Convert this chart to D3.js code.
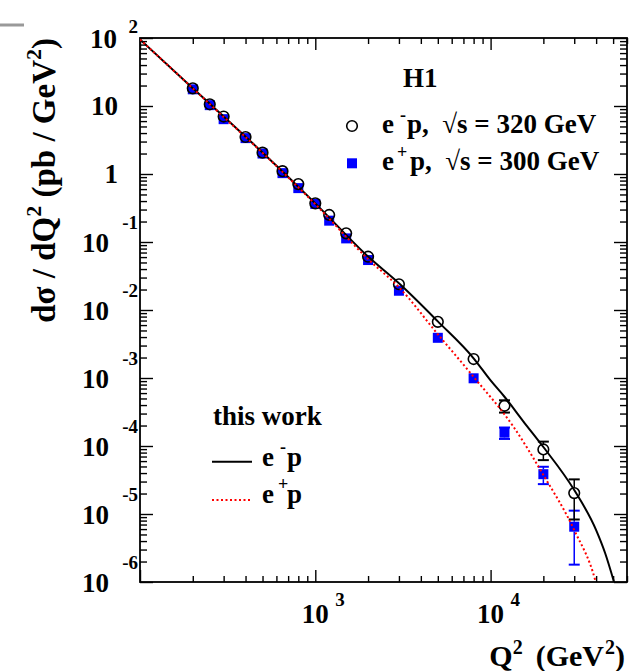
<!DOCTYPE html>
<html><head><meta charset="utf-8">
<script src="https://cdn.jsdelivr.net/npm/d3@7"></script>
<style>
body{margin:0;background:#fff}
svg{display:block}
text{font-family:"Liberation Serif","Times New Roman",serif;font-weight:bold;fill:#000}
</style>
</head><body><svg id="c" width="629" height="671"></svg>
<script>
// ---- data ----
const q2Points = [200,250,300,400,500,650,800,1000,1200,1500,2000,3000,5000,8000,12000,20000,30000];
const sigmaEm  = [18.2,10.6,7.0,3.5,2.06,1.10,0.71,0.37,0.25,0.134,0.0608,0.0239,0.0067,0.0019,0.00039,0.000089,0.0000203];
const errEm    = [0.4,0.25,0.15,0.08,0.05,0.03,0.02,0.01,0.008,0.005,0.0025,0.001,0.0004,0.00015,0.00008,0.000027,0.000012];
const sigmaEp  = [17.6,10.3,6.4,3.37,2.0,1.03,0.62,0.363,0.206,0.113,0.0543,0.0192,0.0039,0.00099,0.000157,0.0000385,0.0000065];
const errEp    = [0.4,0.25,0.15,0.08,0.05,0.03,0.02,0.01,0.008,0.005,0.0025,0.001,0.0003,0.0001,0.00003,0.000011,0.0000047];

const curveQ2Em = [100,200,300,500,1000,2000,3000,5000,8000,10000,12000,15400,20000,30000,40000,45000,50600];
const curveEm   = [95,18.3,7.0,2.07,0.37,0.061,0.0247,0.0068,0.00195,0.00092,0.00053,0.000229,0.0000966,0.0000225,0.0000058,0.00000267,0.000001];
const curveQ2Ep = [100,200,300,500,1000,2000,3000,5000,8000,13500,20000,30000,39500,40000];
const curveEp   = [95,18.2,6.9,2.05,0.36,0.056,0.0216,0.0044,0.00104,0.000192,0.0000375,0.0000058,0.00000107,0.00000095];

const xLabelValues = [1e3,1e4];
const xLabelExps   = ["3","4"];
const yLabelValues = [1e2,1e1,1,1e-1,1e-2,1e-3,1e-4,1e-5,1e-6];
const yLabelMant   = ["10","10","1","10","10","10","10","10","10"];
const yLabelExps   = ["2","","","-1","-2","-3","-4","-5","-6"];

// ---- layout ----
const L=140,R=627,T=38,B=582;
const svg=d3.select("#c");
const x=d3.scaleLog().domain([100,60000]).range([L,R]);
const y=d3.scaleLog().domain([1e-6,1e2]).range([B,T]);

// grey stub top-left
svg.append("line").attr("x1",0).attr("x2",24).attr("y1",25).attr("y2",25)
  .attr("stroke","#999").attr("stroke-width",3);

// ticks
const xMajor=[1e2,1e3,1e4];
const xMinor=[];
[1e2,1e3,1e4].forEach(d=>{for(let k=2;k<=9;k++){const v=k*d;if(v<=60000)xMinor.push(v);}});
const yMajor=yLabelValues;
const yMinor=[];
for(let e=-6;e<2;e++){for(let k=2;k<=9;k++)yMinor.push(k*Math.pow(10,e));}

function axisG(axisFn,scale,vals,size,tr){
  const g=svg.append("g").attr("transform",tr)
    .call(axisFn(scale).tickValues(vals).tickSize(-size).tickSizeOuter(0).tickFormat(""));
  g.select(".domain").remove();
  g.selectAll(".tick line").attr("stroke","#000").attr("stroke-width",1.4);
  return g;
}
axisG(d3.axisBottom,x,xMajor,12,`translate(0,${B})`);
axisG(d3.axisBottom,x,xMinor,6,`translate(0,${B})`);
axisG(d3.axisTop,x,xMajor,12,`translate(0,${T})`);
axisG(d3.axisTop,x,xMinor,6,`translate(0,${T})`);
axisG(d3.axisLeft,y,yMajor,13,`translate(${L},0)`);
axisG(d3.axisLeft,y,yMinor,7,`translate(${L},0)`);
axisG(d3.axisRight,y,yMajor,13,`translate(${R},0)`);
axisG(d3.axisRight,y,yMinor,7,`translate(${R},0)`);

svg.append("rect").attr("x",L).attr("y",T).attr("width",R-L).attr("height",B-T)
  .attr("fill","none").attr("stroke","#000").attr("stroke-width",1.8);

// tick labels
xLabelValues.forEach((v,i)=>{
  svg.append("text").attr("x",x(v)).attr("y",623).attr("text-anchor","middle")
    .attr("font-size",27).text("10");
  svg.append("text").attr("x",x(v)+20).attr("y",606).attr("font-size",19).text(xLabelExps[i]);
});
yLabelValues.forEach((v,i)=>{
  const ty=y(v);
  const ex=yLabelExps[i];
  if(ex===""){
    svg.append("text").attr("x",118).attr("y",ty+9).attr("text-anchor","end")
      .attr("font-size",27).text(yLabelMant[i]);
  } else {
    const neg=ex.startsWith("-");
    svg.append("text").attr("x",neg?109:117).attr("y",ty+10).attr("text-anchor","end")
      .attr("font-size",27).text(yLabelMant[i]);
    svg.append("text").attr("x",138).attr("y",neg?ty-13:ty-5).attr("text-anchor","end")
      .attr("font-size",19).text(ex);
  }
});

// axis titles
const xt=svg.append("text").attr("x",625).attr("y",666).attr("text-anchor","end").attr("font-size",30);
xt.append("tspan").text("Q");
xt.append("tspan").attr("font-size",20).attr("dy",-12).text("2");
xt.append("tspan").attr("dx",13).attr("dy",12).text("(GeV");
xt.append("tspan").attr("font-size",20).attr("dx",1).attr("dy",-12).text("2");
xt.append("tspan").attr("dy",12).text(")");

const yt=svg.append("text").attr("transform","translate(55,38) rotate(-90)")
  .attr("text-anchor","end").attr("font-size",33).attr("xml:space","preserve");
yt.append("tspan").text("dσ / dQ");
yt.append("tspan").attr("font-size",22).attr("dy",-14).text("2");
yt.append("tspan").attr("dy",14).text(" (pb / GeV");
yt.append("tspan").attr("font-size",22).attr("dy",-14).text("2");
yt.append("tspan").attr("dy",14).text(")");

// clip
svg.append("defs").append("clipPath").attr("id","clip").append("rect")
  .attr("x",L).attr("y",T).attr("width",R-L).attr("height",B-T);
const plot=svg.append("g").attr("clip-path","url(#clip)");

// error bars
function errBars(vals,errs,color){
  q2Points.forEach((q,i)=>{
    const cx=x(q),cy=y(vals[i]),yt=y(vals[i]+errs[i]),yb=y(vals[i]-errs[i]);
    const h=5;
    if(cy-yt>h){
      plot.append("line").attr("x1",cx).attr("x2",cx).attr("y1",cy-h).attr("y2",yt).attr("stroke",color).attr("stroke-width",1.5);
      plot.append("line").attr("x1",cx-5.5).attr("x2",cx+5.5).attr("y1",yt).attr("y2",yt).attr("stroke",color).attr("stroke-width",2);
    }
    if(yb-cy>h){
      plot.append("line").attr("x1",cx).attr("x2",cx).attr("y1",cy+h).attr("y2",yb).attr("stroke",color).attr("stroke-width",1.5);
      plot.append("line").attr("x1",cx-5.5).attr("x2",cx+5.5).attr("y1",yb).attr("y2",yb).attr("stroke",color).attr("stroke-width",2);
    }
  });
}
errBars(sigmaEp,errEp,"#0000ff");
errBars(sigmaEm,errEm,"#000");

// markers
plot.selectAll("rect.sq").data(q2Points).enter().append("rect").attr("class","sq")
  .attr("x",(d)=>x(d)-5).attr("y",(d,i)=>y(sigmaEp[i])-5).attr("width",10).attr("height",10)
  .attr("fill","#0000ff");
plot.selectAll("circle.ci").data(q2Points).enter().append("circle").attr("class","ci")
  .attr("cx",d=>x(d)).attr("cy",(d,i)=>y(sigmaEm[i])).attr("r",5.3)
  .attr("fill","none").attr("stroke","#000").attr("stroke-width",1.6);

// curves
const line=d3.line().x(d=>x(d[0])).y(d=>y(d[1])).curve(d3.curveMonotoneX);
plot.append("path").datum(curveQ2Em.map((q,i)=>[q,curveEm[i]])).attr("d",line)
  .attr("fill","none").attr("stroke","#000").attr("stroke-width",2);
plot.append("path").datum(curveQ2Ep.map((q,i)=>[q,curveEp[i]])).attr("d",line)
  .attr("fill","none").attr("stroke","#ff0000").attr("stroke-width",2).attr("stroke-dasharray","2,2.5");

// legend top
svg.append("text").attr("x",403).attr("y",87).attr("font-size",27).text("H1");
function legRow(yb,sign,energy){
  const t=svg.append("text").attr("y",yb).attr("font-size",27).attr("xml:space","preserve");
  t.append("tspan").attr("x",382).text("e");
  t.append("tspan").attr("x",sign==="-"?400:397).attr("dy",-12).attr("font-size",18).text(sign);
  t.append("tspan").attr("x",sign==="-"?407:410).attr("dy",12).text("p,  √s = "+energy+" GeV");
}
svg.append("circle").attr("cx",352).attr("cy",126).attr("r",5.3).attr("fill","none").attr("stroke","#000").attr("stroke-width",1.6);
legRow(133,"-","320");
svg.append("rect").attr("x",347).attr("y",158.3).attr("width",10).attr("height",10).attr("fill","#0000ff");
legRow(170,"+","300");

// legend bottom
svg.append("text").attr("x",213).attr("y",425).attr("font-size",27).text("this work");
svg.append("line").attr("x1",212).attr("x2",252).attr("y1",461.7).attr("y2",461.7).attr("stroke","#000").attr("stroke-width",2);
svg.append("line").attr("x1",212).attr("x2",252).attr("y1",500).attr("y2",500).attr("stroke","#ff0000").attr("stroke-width",2).attr("stroke-dasharray","2,2.5");
function legRow2(yb,sign){
  const t=svg.append("text").attr("y",yb).attr("font-size",27);
  t.append("tspan").attr("x",262).text("e");
  t.append("tspan").attr("x",sign==="-"?280:278).attr("dy",-13).attr("font-size",18).text(sign);
  t.append("tspan").attr("x",287).attr("dy",13).text("p");
}
legRow2(466,"-");
legRow2(503,"+");
</script>
</body></html>
